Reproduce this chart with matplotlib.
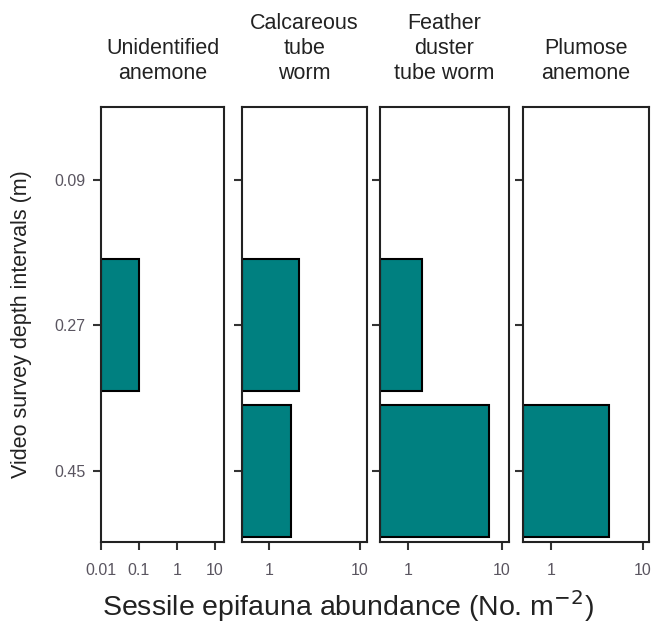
import numpy as np
import matplotlib
matplotlib.use('Agg')
import matplotlib.pyplot as plt
from matplotlib.ticker import FixedLocator, NullLocator

plt.rcParams['font.family'] = ['Liberation Sans', 'DejaVu Sans']

# depth intervals (m) and abundance per taxon (No. m-2), 0 = absent
depths = [0.09, 0.27, 0.45]
taxa = ['Unidentified\nanemone', 'Calcareous\ntube\nworm',
        'Feather\nduster\ntube worm', 'Plumose\nanemone']
anemone = [0, 0.1, 0]
calcareous = [0, 2.15, 1.73]
feather = [0, 1.39, 7.3]
plumose = [0, 0, 4.3]
series = [anemone, calcareous, feather, plumose]

xlims = [(0.01, 17.5), (0.5, 12), (0.5, 12), (0.5, 11.7)]
xticks = [[0.01, 0.1, 1, 10], [1, 10], [1, 10], [1, 10]]
xticklabels = [['0.01', '0.1', '1', '10'], ['1', '10'], ['1', '10'], ['1', '10']]

teal = '#008080'
tick_col = '#5a5560'

fig = plt.figure(figsize=(6.52, 6.35), dpi=100)
W, H = 652, 635
boxes = [(101, 224), (242, 367), (380, 509), (523, 649)]
top, bottom = 107, 542

for i, (x0, x1) in enumerate(boxes):
    ax = fig.add_axes([x0 / W, 1 - bottom / H, (x1 - x0) / W, (bottom - top) / H])
    vals = series[i]
    lo = xlims[i][0]
    for d, v in zip(depths, vals):
        if v > 0:
            ax.barh(d, v - lo, left=lo, height=0.163, color=teal,
                    edgecolor='black', linewidth=1.5)
    ax.set_xscale('log')
    ax.set_xlim(*xlims[i])
    ax.set_ylim(0.538, 0.0)
    ax.xaxis.set_major_locator(FixedLocator(xticks[i]))
    ax.xaxis.set_minor_locator(NullLocator())
    ax.set_xticklabels(xticklabels[i])
    ax.set_yticks(depths)
    if i == 0:
        ax.set_yticklabels(['0.09', '0.27', '0.45'])
    else:
        ax.set_yticklabels([])
    ax.tick_params(direction='out', length=6, width=1.5, colors='#333333',
                   labelcolor=tick_col, labelsize=11.5)
    ax.tick_params(axis='x', pad=9)
    ax.tick_params(axis='y', pad=5)
    for s in ax.spines.values():
        s.set_linewidth(1.5)
        s.set_color('#222222')
    ax.set_title(taxa[i], fontsize=15.5, color='#222222', pad=20, linespacing=1.25)
    if i == 0:
        ax.set_ylabel('Video survey depth intervals (m)', fontsize=15.5,
                      color='#222222', labelpad=16)

fig.text(348 / W, 1 - 606 / H, 'Sessile epifauna abundance (No. m$^{-2}$)',
         ha='center', va='center', fontsize=20.5, color='#222222')

fig.savefig('out.png', dpi=100)
